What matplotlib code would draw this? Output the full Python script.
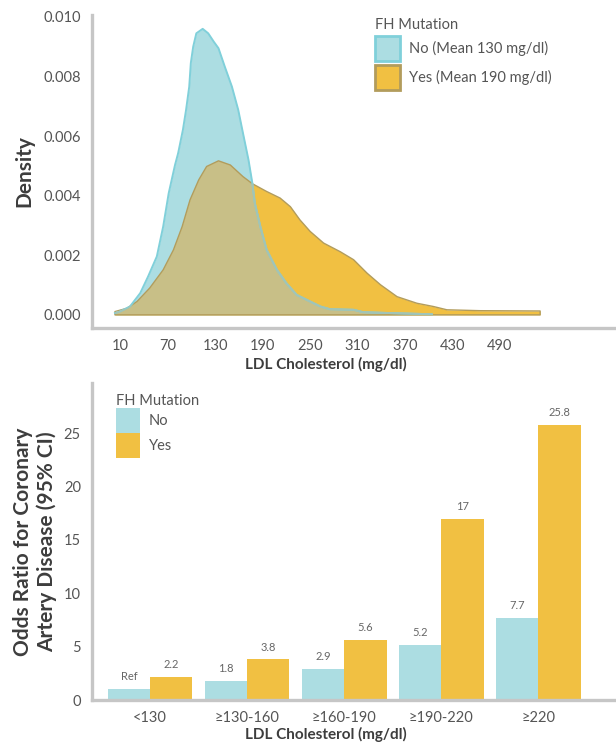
import matplotlib
matplotlib.use("Agg")
import matplotlib.pyplot as plt
from matplotlib.patches import Patch

plt.rcParams['font.family'] = ['Lato', 'DejaVu Sans']

# ---- density curves ----
no_x = [3, 9, 22, 35, 45, 56, 64, 71, 79, 83, 89, 93, 97, 99, 102, 106, 114, 121,
        128, 134, 142, 151, 159, 165, 172, 177, 180, 187, 195, 208, 220, 233, 246,
        263, 275, 305, 317, 351, 404]
no_y = [0.00006, 0.00011, 0.00028, 0.00073, 0.00129, 0.00196, 0.00296, 0.00408,
        0.00503, 0.00543, 0.00621, 0.00688, 0.00766, 0.00845, 0.009, 0.00945,
        0.0096, 0.00945, 0.00917, 0.00895, 0.00833, 0.00766, 0.00688, 0.0061,
        0.0052, 0.0044, 0.00375, 0.00296, 0.00218, 0.00151, 0.00106, 0.00067,
        0.0005, 0.00028, 0.00019, 0.00017, 0.00009, 0.00006, 0.00002]

yes_x = [3, 18, 31, 47, 64, 77, 88, 98, 109, 119, 134, 149, 165, 177, 195, 212,
         225, 237, 250, 267, 288, 305, 322, 339, 360, 385, 406, 423, 465, 541]
yes_y = [0.00011, 0.00022, 0.00045, 0.0009, 0.00151, 0.00218, 0.00296, 0.00386,
         0.00453, 0.00498, 0.00517, 0.00503, 0.00464, 0.0044, 0.00414, 0.00392,
         0.00363, 0.00319, 0.0028, 0.00241, 0.00212, 0.00185, 0.0014, 0.00101,
         0.00061, 0.00039, 0.00028, 0.00017, 0.00014, 0.00013]

density_ticks = [0.000, 0.002, 0.004, 0.006, 0.008, 0.010]
ldl_ticks = [10, 70, 130, 190, 250, 310, 370, 430, 490]
legend_top = ["No (Mean 130 mg/dl)", "Yes (Mean 190 mg/dl)"]

# ---- odds ratios ----
groups = ["<130", "≥130-160", "≥160-190", "≥190-220", "≥220"]
or_no = [1.0, 1.8, 2.9, 5.2, 7.7]
or_yes = [2.2, 3.8, 5.6, 17, 25.8]
lbl_no = ["Ref", "1.8", "2.9", "5.2", "7.7"]
lbl_yes = ["2.2", "3.8", "5.6", "17", "25.8"]
or_ticks = [0, 5, 10, 15, 20, 25]

CYAN = '#acdde2'
CYAN_EDGE = '#80d0da'
YELLOW = '#f1c042'
YELLOW_EDGE = '#b29c5c'
OLIVE = '#c8bf87'
SPINE = '#c6c6c6'
TICK = '#555555'
LABEL = '#3d3d3d'

fig = plt.figure(figsize=(6.16, 7.42), dpi=100)
ax1 = fig.add_axes([0.1494, 0.558, 0.8506, 0.422])
ax2 = fig.add_axes([0.1494, 0.0566, 0.8506, 0.4272])


def style(ax):
    for s in ['top', 'right']:
        ax.spines[s].set_visible(False)
    for s in ['left', 'bottom']:
        ax.spines[s].set_color(SPINE)
        ax.spines[s].set_linewidth(2.4)
    ax.tick_params(length=0, labelsize=10.5, colors=TICK, pad=8)


def style_legend(leg):
    leg._legend_box.align = 'left'
    for t in leg.get_texts():
        t.set_color(TICK)
    leg.get_title().set_color(TICK)


# top: density
style(ax1)
no_fill = ax1.fill_between(no_x, no_y, color=CYAN, linewidth=0)
yes_fill = ax1.fill_between(yes_x, yes_y, color=YELLOW, linewidth=0)
ov = ax1.fill_between(yes_x, yes_y, color=OLIVE, linewidth=0)
ov.set_clip_path(no_fill.get_paths()[0], ax1.transData)
ax1.plot(no_x, no_y, color=CYAN_EDGE, lw=1.4)
inner, = ax1.plot(no_x, no_y, color='#a2c4b6', lw=1.4)
inner.set_clip_path(yes_fill.get_paths()[0], ax1.transData)
ax1.fill_between(yes_x, yes_y, facecolor='none', edgecolor=YELLOW_EDGE, lw=1.0)

ax1.set_xlim(-26, 637)
ax1.set_ylim(-0.00044, 0.01007)
ax1.set_xticks(ldl_ticks)
ax1.set_yticks(density_ticks)
ax1.set_yticklabels([f"{v:.3f}" for v in density_ticks])
ax1.set_ylabel("Density", fontsize=15, fontweight='bold', color=LABEL)
ax1.yaxis.set_label_coords(-0.13, 0.5)
ax1.yaxis.label.set_va('center')
ax1.set_xlabel("LDL Cholesterol (mg/dl)", fontsize=11, fontweight='bold', color=LABEL)
ax1.xaxis.set_label_coords(0.447, -0.118)
ax1.xaxis.label.set_va('center')

h1 = [Patch(facecolor=CYAN, edgecolor=CYAN_EDGE, lw=2),
      Patch(facecolor=YELLOW, edgecolor=YELLOW_EDGE, lw=2)]
leg1 = ax1.legend(h1, legend_top, title="FH Mutation", loc='upper left',
                  bbox_to_anchor=(0.535, 1.0), frameon=False, fontsize=10.5,
                  title_fontsize=10.5, handlelength=1.7, handleheight=2.25,
                  labelspacing=0.3, handletextpad=0.6, borderaxespad=0, borderpad=0.2)
style_legend(leg1)

# bottom: odds ratios
style(ax2)
w = 0.435
xs = range(len(groups))
b_no = ax2.bar([x - w / 2 for x in xs], or_no, w, color=CYAN, label="No")
b_yes = ax2.bar([x + w / 2 for x in xs], or_yes, w, color=YELLOW, label="Yes")
ax2.bar_label(b_no, labels=lbl_no, padding=5, fontsize=8, color='#666666')
ax2.bar_label(b_yes, labels=lbl_yes, padding=5, fontsize=8, color='#666666')
ax2.set_xlim(-0.6, 4.8)
ax2.set_ylim(0, 29.7)
ax2.set_xticks(list(xs))
ax2.set_xticklabels(groups)
ax2.set_yticks(or_ticks)
ax2.set_ylabel("Odds Ratio for Coronary\nArtery Disease (95% CI)", fontsize=15,
               fontweight='bold', color=LABEL, linespacing=1.25)
ax2.yaxis.set_label_coords(-0.109, 0.5)
ax2.yaxis.label.set_va('center')
ax2.set_xlabel("LDL Cholesterol (mg/dl)", fontsize=11, fontweight='bold', color=LABEL)
ax2.xaxis.set_label_coords(0.447, -0.11)
ax2.xaxis.label.set_va('center')

leg2 = ax2.legend(title="FH Mutation", loc='upper left', bbox_to_anchor=(0.04, 0.975),
                  frameon=False, fontsize=10.5, title_fontsize=10.5, handlelength=1.65,
                  handleheight=2.25, labelspacing=0.0, handletextpad=0.6,
                  borderaxespad=0, borderpad=0.2)
style_legend(leg2)

fig.savefig('out.png', dpi=100)
